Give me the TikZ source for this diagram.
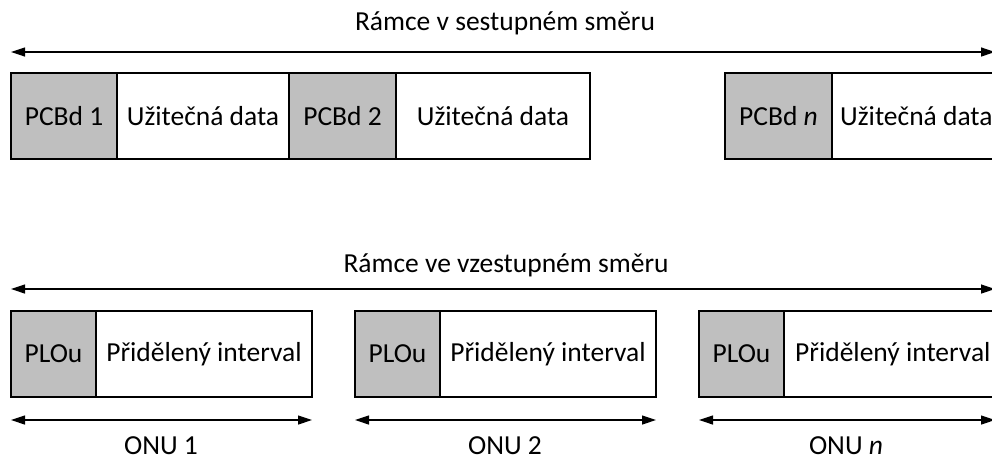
\documentclass[tikz,border=0pt]{standalone}
\usepackage{fontspec}
\setmainfont{Carlito}
\usetikzlibrary{arrows.meta}
\definecolor{hdr}{HTML}{BFBFBF}
\begin{document}
\begin{tikzpicture}[x=1pt,y=-1pt,
  box/.style={draw=black,line width=1.2pt},
  hbox/.style={box,fill=hdr},
  lbl/.style={font=\fontsize{27.5}{32}\selectfont,inner sep=0pt,anchor=center},
  dim/.style={line width=1.2pt,{Triangle[length=14pt,width=9pt]}-{Triangle[length=14pt,width=9pt]}}]
\useasboundingbox (0,0) rectangle (992,461);
\clip (0,0) rectangle (992,461);
% downstream
\node[lbl] (t1) at (505,23) {Rámce v sestupném směru};
\coordinate (a1) at (11,52); \coordinate (b1) at (995,52);
\draw[dim] (a1) -- (b1);
\draw[hbox] (11,73) rectangle (117,159);
\draw[box] (117,73) rectangle (289,159);
\draw[hbox] (289,73) rectangle (396,159);
\draw[box] (396,73) rectangle (590,159);
\draw[hbox] (725,73) rectangle (832,159);
\draw[box] (832,73) rectangle (1000,159);
\node[lbl] (p1) at (64,116) {PCBd 1};
\node[lbl] (d1) at (203,116) {Užitečná data};
\node[lbl] (p2) at (342.5,116) {PCBd 2};
\node[lbl] (d2) at (493,116) {Užitečná data};
\node[lbl] (pn) at (778.5,116) {PCBd \textit{n}};
\node[lbl,anchor=west] (dn) at (840,116) {Užitečná data};
% upstream
\node[lbl] (t2) at (506,265) {Rámce ve vzestupném směru};
\coordinate (a2) at (11,289); \coordinate (b2) at (995,289);
\draw[dim] (a2) -- (b2);
\draw[hbox] (11,311) rectangle (96,397);
\draw[box] (96,311) rectangle (312,397);
\draw[hbox] (355,311) rectangle (440,397);
\draw[box] (440,311) rectangle (656,397);
\draw[hbox] (699,311) rectangle (784,397);
\draw[box] (784,311) rectangle (1000,397);
\node[lbl] (q1) at (53.5,354) {PLOu};
\node[lbl] (i1) at (204,354) {Přidělený interval};
\node[lbl] (q2) at (397.5,354) {PLOu};
\node[lbl] (i2) at (548,354) {Přidělený interval};
\node[lbl] (q3) at (741.5,354) {PLOu};
\node[lbl,anchor=west] (i3) at (795,354) {Přidělený interval};
\coordinate (c1) at (11,420); \coordinate (e1) at (312,420);
\coordinate (c2) at (355,420); \coordinate (e2) at (656,420);
\coordinate (c3) at (699,420); \coordinate (e3) at (995,420);
\draw[dim] (c1) -- (e1);
\draw[dim] (c2) -- (e2);
\draw[dim] (c3) -- (e3);
\node[lbl] (o1) at (161,446) {ONU 1};
\node[lbl] (o2) at (505,446) {ONU 2};
\node[lbl] (o3) at (846,446) {ONU \textit{n}};
\end{tikzpicture}
\end{document}
